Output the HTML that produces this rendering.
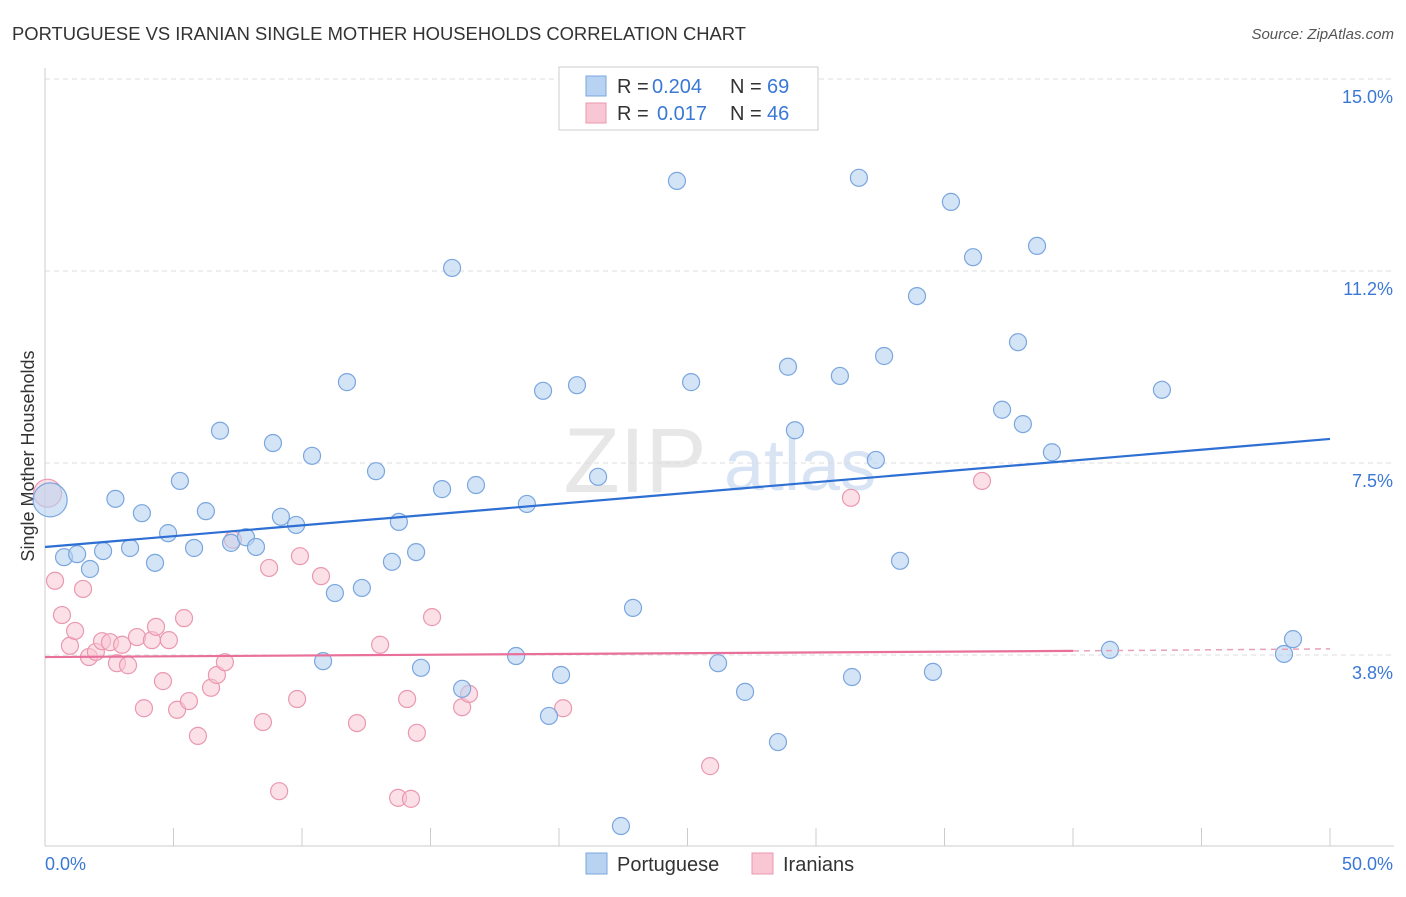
<!DOCTYPE html>
<html><head><meta charset="utf-8"><style>
body{margin:0;background:#fff;font-family:"Liberation Sans",sans-serif;}
svg text{font-family:"Liberation Sans",sans-serif;}
</style></head><body>
<svg id="chart" width="1406" height="892" xmlns="http://www.w3.org/2000/svg">
<text x="12" y="40" font-size="18" fill="#333" textLength="734" lengthAdjust="spacingAndGlyphs">PORTUGUESE VS IRANIAN SINGLE MOTHER HOUSEHOLDS CORRELATION CHART</text>
<text x="1394" y="39" font-size="15" fill="#555" font-style="italic" text-anchor="end">Source: ZipAtlas.com</text>
<text x="0" y="0" font-size="18" fill="#333" transform="translate(34,456) rotate(-90)" text-anchor="middle">Single Mother Households</text>
<g><text x="635" y="492" font-size="92" fill="#ddd" font-family="Liberation Serif" text-anchor="middle" opacity="0.7">ZIP</text><text x="800" y="490" font-size="72" fill="#c8daf0" text-anchor="middle" opacity="0.7">atlas</text></g>
<g id="grid"></g><g id="axes"></g><g id="marks"></g>
<g>
<rect x="559" y="67" width="259" height="63" fill="#fff" stroke="#ccc"/>
<rect x="586" y="76" width="20" height="20" fill="#b8d2f2" stroke="#7aa6de"/>
<rect x="586" y="103" width="20" height="20" fill="#f9c6d4" stroke="#ea98b0"/>
<text y="93" font-size="20" fill="#333" xml:space="preserve"><tspan x="617">R =</tspan><tspan x="652" fill="#3a78d6">0.204</tspan><tspan x="730">N =</tspan><tspan x="767" fill="#3a78d6">69</tspan></text>
<text y="120" font-size="20" fill="#333" xml:space="preserve"><tspan x="617">R =</tspan><tspan x="657" fill="#3a78d6">0.017</tspan><tspan x="730">N =</tspan><tspan x="767" fill="#3a78d6">46</tspan></text>
</g>
<g>
<rect x="586" y="853" width="21" height="21" fill="#b8d2f2" stroke="#7aa6de"/>
<text x="617" y="871" font-size="20" fill="#333">Portuguese</text>
<rect x="752" y="853" width="21" height="21" fill="#f9c6d4" stroke="#ea98b0"/>
<text x="783" y="871" font-size="20" fill="#333">Iranians</text>
</g>
</svg>
<script>
const yTicks=[3.75,7.5,11.25,15.0];
const yTickLabels=["3.8%","7.5%","11.2%","15.0%"];
const xTicks=[0,5,10,15,20,25,30,35,40,45,50];
const portX=[0.2,0.74,1.25,1.75,2.26,2.74,3.31,3.77,4.28,4.79,5.25,5.8,6.26,6.81,7.24,7.82,8.21,8.87,9.18,9.77,10.39,10.82,11.28,11.75,12.33,12.88,13.5,13.77,14.44,14.63,15.45,15.84,16.23,16.77,18.33,18.75,19.38,19.61,20.08,20.7,21.52,22.41,22.88,24.59,25.14,26.19,27.24,28.52,28.91,29.18,30.93,31.4,31.67,32.33,32.65,33.27,33.93,34.55,35.25,36.11,37.24,37.86,38.05,38.6,39.18,41.44,43.46,48.21,48.56];
const portY=[6.78,5.66,5.72,5.43,5.78,6.8,5.84,6.52,5.55,6.13,7.15,5.84,6.56,8.13,5.94,6.05,5.86,7.89,6.45,6.29,7.64,3.63,4.96,9.08,5.06,7.34,5.57,6.35,5.76,3.5,6.99,11.31,3.09,7.07,3.73,6.7,8.91,2.56,3.36,9.02,7.23,0.41,4.67,13.01,9.08,3.59,3.03,2.05,9.38,8.14,9.2,3.32,13.07,7.56,9.59,5.59,10.76,3.42,12.6,11.52,8.54,9.86,8.26,11.74,7.71,3.85,8.93,3.77,4.06];
const iranX=[0.1,0.39,0.66,0.97,1.17,1.48,1.71,1.98,2.22,2.53,2.8,3.0,3.23,3.58,3.85,4.16,4.32,4.59,4.82,5.14,5.41,5.6,5.95,6.46,6.69,7.0,7.31,8.48,8.72,9.11,9.81,9.92,10.74,12.14,13.04,13.74,14.09,14.24,14.47,15.06,16.23,16.5,20.16,25.88,31.36,36.46];
const iranY=[6.91,5.2,4.53,3.93,4.22,5.04,3.71,3.81,4.02,4.0,3.59,3.95,3.55,4.1,2.71,4.04,4.3,3.24,4.04,2.68,4.47,2.85,2.17,3.11,3.36,3.61,6.0,2.44,5.45,1.09,2.89,5.68,5.29,2.42,3.95,0.96,2.89,0.94,2.23,4.49,2.73,2.99,2.71,1.58,6.82,7.15];
const portTrend=[5.86,7.97];
const iranTrend=[3.71,3.83,3.87];
const NS="http://www.w3.org/2000/svg";
const X=v=>45+v*25.7, Y=v=>847-v*51.2;
function mk(tag,attrs,parent){const e=document.createElementNS(NS,tag);for(const k in attrs)e.setAttribute(k,attrs[k]);document.getElementById(parent).appendChild(e);return e;}
yTicks.forEach((t,i)=>{
  const l=mk('line',{x1:45,x2:1394,y1:Y(t),y2:Y(t),stroke:'#ddd','stroke-dasharray':'5,4'},'grid');
  
  
  const tx=mk('text',{x:1393,y:Y(t)+24,'font-size':18,fill:'#3a78d6','text-anchor':'end'},'grid');
  tx.textContent=yTickLabels[i];
  
  
});
const ya=mk('line',{x1:45,x2:45,y1:68,y2:846,stroke:'#ccc'},'axes');


const xa=mk('line',{x1:45,x2:1394,y1:846,y2:846,stroke:'#ccc'},'axes');


xTicks.forEach(t=>{
  const l=mk('line',{x1:X(t),x2:X(t),y1:828,y2:846,stroke:'#ccc'},'axes');
  
  
});
const xl0=mk('text',{x:45,y:870,'font-size':18,fill:'#3a78d6'},'axes');xl0.textContent='0.0%';


const xl1=mk('text',{x:1393,y:870,'font-size':18,fill:'#3a78d6','text-anchor':'end'},'axes');xl1.textContent='50.0%';


iranX.forEach((x,i)=>{
  const c=mk('circle',{cx:X(x),cy:Y(iranY[i]),r:i==0?14:8.5,fill:'#f9c6d4','fill-opacity':0.55,stroke:'#ea98b0','stroke-width':1.2},'marks');
  
  
});
portX.forEach((x,i)=>{
  const c=mk('circle',{cx:X(x),cy:Y(portY[i]),r:i==0?17:8.5,fill:'#b8d2f2','fill-opacity':0.6,stroke:'#7aa6de','stroke-width':1.2},'marks');
  
  
});
const bt=mk('line',{x1:X(0),y1:Y(portTrend[0]),x2:X(50),y2:Y(portTrend[1]),stroke:'#2e6fd4','stroke-width':2.2},'marks');


const pt=mk('line',{x1:X(0),y1:Y(iranTrend[0]),x2:X(40),y2:Y(iranTrend[1]),stroke:'#e8709a','stroke-width':2.2},'marks');


const pd=mk('line',{x1:X(40),y1:Y(iranTrend[1]),x2:X(50),y2:Y(iranTrend[2]),stroke:'#e8a0b8','stroke-width':1.5,'stroke-dasharray':'6,5'},'marks');


</script>
</body></html>
